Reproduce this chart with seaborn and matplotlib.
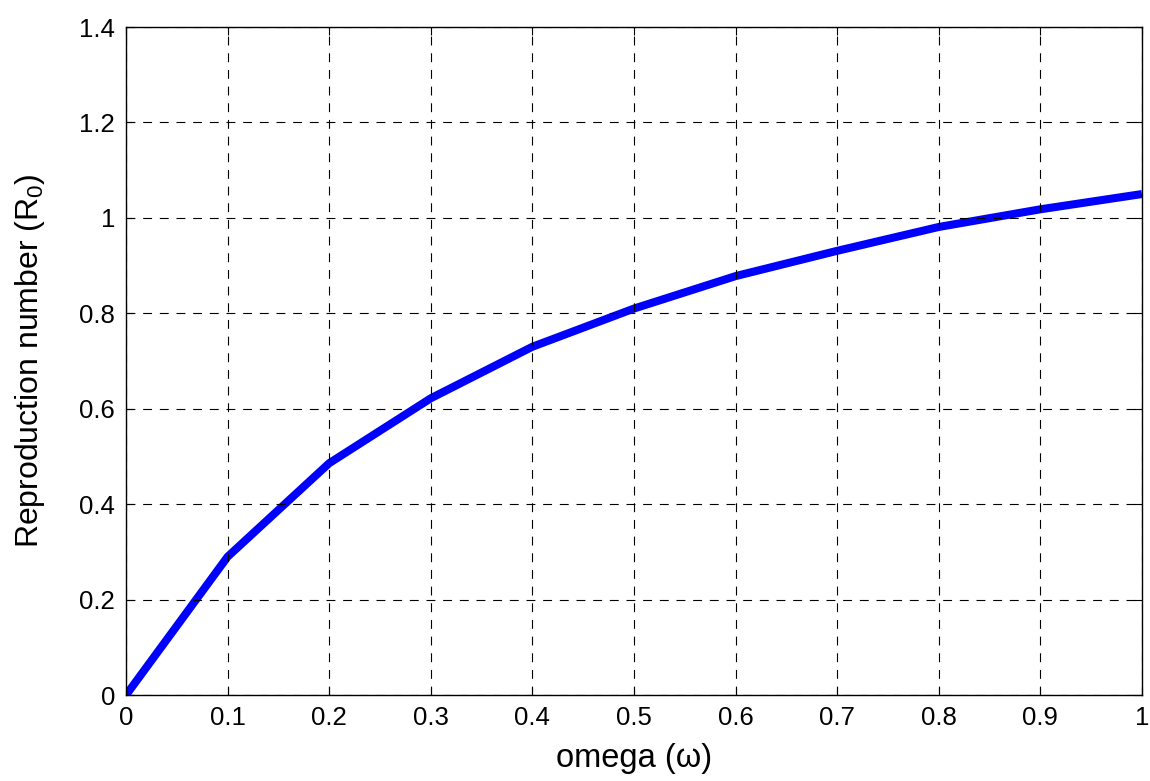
import numpy as np
import pandas as pd
import matplotlib
matplotlib.use("Agg")
import matplotlib.pyplot as plt
import seaborn as sns

# dane
omega = [0.0, 0.1, 0.2, 0.3, 0.4, 0.5, 0.6, 0.7, 0.8, 0.9, 1.0]
r0 = [0.0, 0.290, 0.486, 0.622, 0.730, 0.810, 0.878, 0.931, 0.981, 1.018, 1.050]
x_ticks = [0, 0.1, 0.2, 0.3, 0.4, 0.5, 0.6, 0.7, 0.8, 0.9, 1]
y_ticks = [0, 0.2, 0.4, 0.6, 0.8, 1.0, 1.2, 1.4]
y_tick_labels = ['0', '0.2', '0.4', '0.6', '0.8', '1', '1.2', '1.4']

df = pd.DataFrame({'omega': omega, 'R0': r0})

sns.set_style("ticks")
plt.rcParams['font.family'] = ['Liberation Sans', 'DejaVu Sans']
plt.rcParams['text.color'] = 'black'
plt.rcParams['axes.labelcolor'] = 'black'
plt.rcParams['mathtext.fontset'] = 'custom'
plt.rcParams['mathtext.rm'] = 'Liberation Sans'
plt.rcParams['mathtext.it'] = 'Liberation Sans:italic'

fig = plt.figure(figsize=(11.5, 7.81), dpi=100)
ax = fig.add_axes([0.1096, 0.110, 0.8834, 0.8554])

sns.lineplot(data=df, x='omega', y='R0', ax=ax, color='#0000ff',
             linewidth=5.8, solid_capstyle='butt')

ax.set_xlim(0, 1)
ax.set_ylim(0, 1.4)
ax.set_xticks(x_ticks)
ax.set_xticklabels([f'{t:g}' for t in x_ticks])
ax.set_yticks(y_ticks)
ax.set_yticklabels(y_tick_labels)

# siatka przerywana w stylu MATLAB
ax.grid(True, color='black', linestyle=(0, (8, 7)), linewidth=0.8)
ax.set_axisbelow(False)
ax.tick_params(direction='in', length=6, width=0.8, labelsize=18.5,
               top=True, right=True, pad=8, colors='black')
for sp in ax.spines.values():
    sp.set_linewidth(1.0)
    sp.set_color('black')

ax.set_xlabel('omega (\u03c9)', fontsize=23.5, labelpad=9, color='black')
ax.set_ylabel(r'Reproduction number (R$_\mathregular{0}$)', fontsize=23,
              labelpad=23, color='black')

fig.savefig('out.png', dpi=100, facecolor='white')
